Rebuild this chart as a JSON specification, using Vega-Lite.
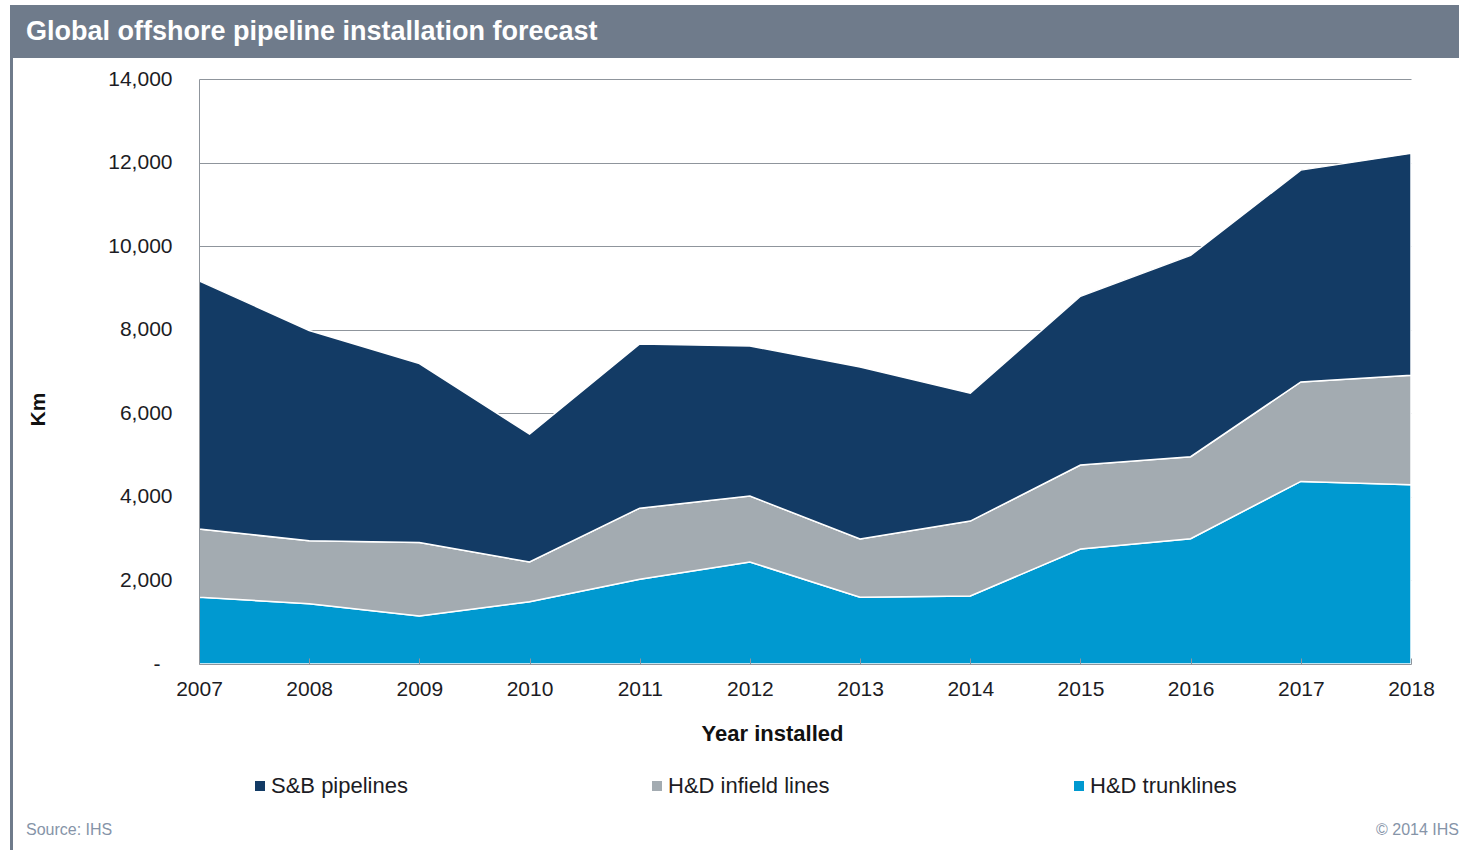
{
  "$schema": "https://vega.github.io/schema/vega-lite/v6.json",
  "background": "white",
  "padding": {"left": 10, "top": 5, "right": 0, "bottom": 0},
  "autosize": {"type": "pad"},
  "spacing": 0,
  "title": {"text": "© 2014 IHS", "orient": "bottom", "anchor": "end", "align": "right", "frame": "bounds", "fontSize": 16, "fontWeight": "normal", "font": "Liberation Sans", "color": "#8694a8", "offset": 0, "dx": 0, "dy": -28},
  "config": {
    "view": {"stroke": null},
    "font": "Liberation Sans",
    "axis": {"labelFont": "Liberation Sans", "titleFont": "Liberation Sans", "labelColor": "#1c1c24", "titleColor": "#111111"},
    "legend": {"labelFont": "Liberation Sans"}
  },
  "hconcat": [
    {
      "width": 3,
      "height": 845,
      "view": {"fill": "#6f7b8b", "stroke": null},
      "data": {"values": [{"a": 0}]},
      "mark": {"type": "point", "size": 0, "strokeWidth": 0, "opacity": 0},
      "encoding": {}
    },
    {
      "spacing": 0,
      "vconcat": [
        {
          "width": 1446,
          "height": 53,
          "view": {"fill": "#6f7b8b", "stroke": null},
          "data": {"values": [{"heading": "Global offshore pipeline installation forecast"}]},
          "mark": {"type": "text", "align": "left", "baseline": "middle", "fontSize": 27, "fontWeight": "bold", "color": "white", "font": "Liberation Sans", "dx": 13},
          "encoding": {
            "text": {"field": "heading", "type": "nominal"},
            "x": {"datum": 0, "type": "quantitative", "scale": {"domain": [0, 1]}, "axis": null},
            "y": {"datum": 0.5, "type": "quantitative", "scale": {"domain": [0, 1]}, "axis": null}
          }
        },
        {
          "title": {"text": "Source: IHS", "orient": "bottom", "anchor": "start", "frame": "bounds", "fontSize": 16, "fontWeight": "normal", "font": "Liberation Sans", "color": "#8694a8", "offset": 0, "dx": 13, "dy": 78},
          "spacing": 0,
          "hconcat": [
            {
              "width": 1,
              "height": 1,
              "data": {"values": [{"a": 0}]},
              "mark": {"type": "point", "size": 0, "strokeWidth": 0, "opacity": 0},
              "encoding": {}
            },
            {
              "width": 1212,
              "height": 585,
              "title": {"text": "\u00a0", "fontSize": 10, "offset": 0, "frame": "group", "anchor": "start", "dx": -185},
              "data": {"values": [
                {"year": "2007", "series": "H&D trunklines", "km": 1600},
                {"year": "2008", "series": "H&D trunklines", "km": 1440},
                {"year": "2009", "series": "H&D trunklines", "km": 1150},
                {"year": "2010", "series": "H&D trunklines", "km": 1490},
                {"year": "2011", "series": "H&D trunklines", "km": 2030},
                {"year": "2012", "series": "H&D trunklines", "km": 2440},
                {"year": "2013", "series": "H&D trunklines", "km": 1600},
                {"year": "2014", "series": "H&D trunklines", "km": 1630},
                {"year": "2015", "series": "H&D trunklines", "km": 2750},
                {"year": "2016", "series": "H&D trunklines", "km": 3000},
                {"year": "2017", "series": "H&D trunklines", "km": 4370},
                {"year": "2018", "series": "H&D trunklines", "km": 4290},
                {"year": "2007", "series": "H&D infield lines", "km": 1630},
                {"year": "2008", "series": "H&D infield lines", "km": 1510},
                {"year": "2009", "series": "H&D infield lines", "km": 1760},
                {"year": "2010", "series": "H&D infield lines", "km": 950},
                {"year": "2011", "series": "H&D infield lines", "km": 1700},
                {"year": "2012", "series": "H&D infield lines", "km": 1580},
                {"year": "2013", "series": "H&D infield lines", "km": 1390},
                {"year": "2014", "series": "H&D infield lines", "km": 1790},
                {"year": "2015", "series": "H&D infield lines", "km": 2010},
                {"year": "2016", "series": "H&D infield lines", "km": 1960},
                {"year": "2017", "series": "H&D infield lines", "km": 2380},
                {"year": "2018", "series": "H&D infield lines", "km": 2620},
                {"year": "2007", "series": "S&B pipelines", "km": 5940},
                {"year": "2008", "series": "S&B pipelines", "km": 5030},
                {"year": "2009", "series": "S&B pipelines", "km": 4280},
                {"year": "2010", "series": "S&B pipelines", "km": 3060},
                {"year": "2011", "series": "S&B pipelines", "km": 3930},
                {"year": "2012", "series": "S&B pipelines", "km": 3590},
                {"year": "2013", "series": "S&B pipelines", "km": 4120},
                {"year": "2014", "series": "S&B pipelines", "km": 3060},
                {"year": "2015", "series": "S&B pipelines", "km": 4040},
                {"year": "2016", "series": "S&B pipelines", "km": 4820},
                {"year": "2017", "series": "S&B pipelines", "km": 5070},
                {"year": "2018", "series": "S&B pipelines", "km": 5310}
              ]},
              "transform": [
                {"calculate": "indexof(['H&D trunklines','H&D infield lines','S&B pipelines'], datum.series)", "as": "stackrank"}
              ],
              "layer": [
                {
                  "mark": {"type": "area", "stroke": "white", "strokeWidth": 1.5},
                  "encoding": {
                    "x": {"field": "year", "type": "ordinal", "scale": {"type": "point", "padding": 0},
                      "axis": {"orient": "bottom", "labelAngle": 0, "labelFontSize": 21, "labelPadding": 20, "domain": true, "domainColor": "#8f959c", "ticks": true, "tickSize": -6, "tickColor": "#8f959c", "grid": false, "zindex": 1,
                        "title": "Year installed", "titleFontSize": 22, "titleFontWeight": "bold", "titleX": 573, "titleY": 76, "titleBaseline": "alphabetic", "titleAlign": "center"}},
                    "y": {"field": "km", "type": "quantitative", "stack": "zero", "scale": {"domain": [0, 14000], "nice": false},
                      "axis": {"orient": "left", "grid": true, "gridColor": "#8f959c", "gridWidth": 1, "domain": false, "ticks": false, "labels": false, "title": null, "values": [2000, 4000, 6000, 8000, 10000, 12000, 14000], "zindex": 0}},
                    "color": {"field": "series", "type": "nominal",
                      "scale": {"domain": ["S&B pipelines", "H&D infield lines", "H&D trunklines"], "range": ["#133b65", "#a3abb1", "#0099d0"]},
                      "legend": {"title": null, "orient": "none", "legendX": 239, "legendY": 770, "direction": "horizontal", "columnPadding": 238, "symbolType": "square", "symbolSize": 100, "symbolStrokeWidth": 0, "labelFontSize": 22, "labelOffset": 0, "labelLimit": 400, "labelColor": "#1c1c24", "padding": 0}},
                    "order": {"field": "stackrank", "type": "quantitative"}
                  }
                },
                {
                  "mark": {"type": "point", "opacity": 0},
                  "encoding": {
                    "x": {"field": "year", "type": "ordinal"},
                    "y": {"field": "km", "type": "quantitative",
                      "axis": {"orient": "left", "grid": false, "domain": true, "domainColor": "#8f959c", "ticks": false, "values": [0, 2000, 4000, 6000, 8000, 10000, 12000, 14000], "labelFontSize": 21,
                        "labelPadding": {"condition": {"test": "datum.value === 0", "value": 39}, "value": 27},
                        "labelExpr": "datum.value === 0 ? '-' : format(datum.value, ',')",
                        "title": "Km", "titleFontSize": 21, "titleFontWeight": "bold", "titleAngle": 270, "titleX": -155, "titleY": 330, "titleAlign": "center", "titleBaseline": "alphabetic", "zindex": 1}}
                  }
                }
              ],
              "resolve": {"axis": {"y": "independent"}}
            }
          ]
        }
      ]
    }
  ]
}
